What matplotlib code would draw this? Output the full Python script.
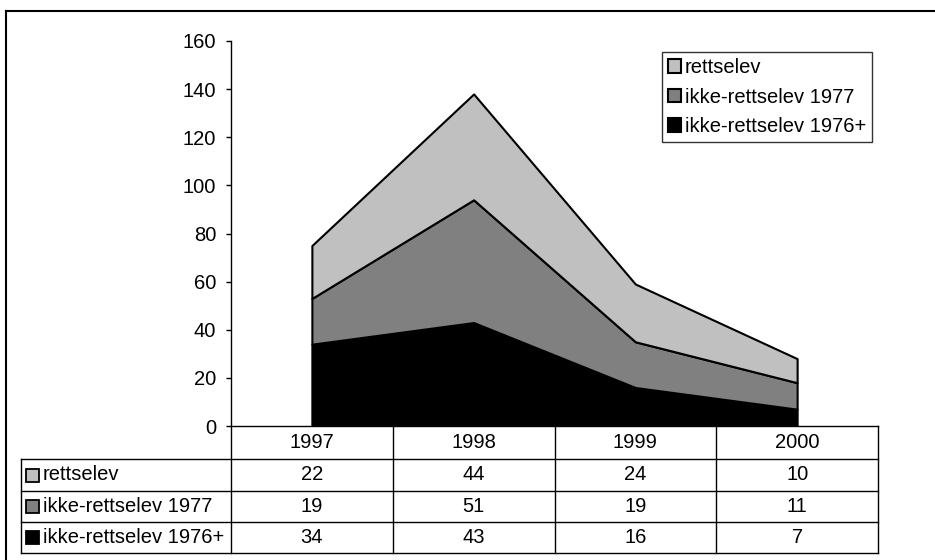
import matplotlib.pyplot as plt
import matplotlib.transforms as mtransforms
from matplotlib.patches import Rectangle

plt.rcParams["font.family"] = ["Liberation Sans", "DejaVu Sans"]

# ── DATA ──
YEARS = ["1997", "1998", "1999", "2000"]
RETTSELEV = [22, 44, 24, 10]
IKKE_1977 = [19, 51, 19, 11]
IKKE_1976 = [34, 43, 16, 7]

# table/legend order (top to bottom)
SERIES = [
    ("rettselev", RETTSELEV, "#c0c0c0"),
    ("ikke-rettselev 1977", IKKE_1977, "#808080"),
    ("ikke-rettselev 1976+", IKKE_1976, "#000000"),
]

W, H = 935, 560
FS = 14.5

fig = plt.figure(figsize=(W / 100, H / 100), dpi=100)

# plot area in pixels
AX_L, AX_R, AX_T, AX_B = 231, 878, 41, 426
ax = fig.add_axes([AX_L / W, 1 - AX_B / H, (AX_R - AX_L) / W, (AX_B - AX_T) / H])

x = list(range(len(YEARS)))
stack = SERIES[::-1]  # bottom layer first
ax.stackplot(
    x,
    *[vals for _, vals, _ in stack],
    colors=[c for _, _, c in stack],
    labels=[name for name, _, _ in stack],
    edgecolor="black",
    linewidth=1.5,
)
ax.set_xlim(-0.5, len(YEARS) - 0.5)
ax.set_ylim(0, 160)
ax.set_yticks(range(0, 161, 20))
ax.set_xticks([])
ax.tick_params(axis="y", direction="out", length=3.6, width=1, pad=7, labelsize=FS)
for side in ["top", "right", "bottom"]:
    ax.spines[side].set_visible(False)
ax.spines["left"].set_linewidth(1)

handles, labels = ax.get_legend_handles_labels()
leg = ax.legend(
    handles[::-1], labels[::-1],
    loc="upper right",
    bbox_to_anchor=(872 / W, 1 - 52 / H),
    bbox_transform=fig.transFigure,
    borderaxespad=0,
    borderpad=0.3,
    labelspacing=0.52,
    handlelength=0.65,
    handleheight=0.65,
    handletextpad=0.2,
    fancybox=False,
    fontsize=FS,
)
leg.get_frame().set_edgecolor("black")
leg.get_frame().set_linewidth(1)

# ── DATA TABLE + OUTER FRAME (pixel overlay) ──
over = fig.add_axes([0, 0, 1, 1])
over.set_xlim(0, W)
over.set_ylim(H, 0)
over.axis("off")

col = mtransforms.blended_transform_factory(ax.transData, over.transData)

ROWS = [426, 459, 491, 522, 553]
TAB_L = 21
n = len(YEARS)

over.plot([-0.5, n - 0.5], [ROWS[0], ROWS[0]], color="black", lw=1, transform=col)
for y in ROWS[1:]:
    over.plot([TAB_L, AX_R], [y, y], color="black", lw=1)
over.plot([TAB_L, TAB_L], [ROWS[1], ROWS[-1]], color="black", lw=1)
for k in range(n + 1):
    over.plot([k - 0.5, k - 0.5], [ROWS[0], ROWS[-1]], color="black", lw=1, transform=col)

mid = lambda i: (ROWS[i] + ROWS[i + 1]) / 2
for i, yr in enumerate(YEARS):
    over.text(i, mid(0), yr, ha="center", va="center", fontsize=FS, transform=col)

for r, (name, vals, color) in enumerate(SERIES, start=1):
    yc = mid(r)
    over.add_patch(Rectangle((26, yc - 6.5), 13, 13, facecolor=color, edgecolor="black", lw=1.3))
    over.text(43, yc, name, ha="left", va="center", fontsize=FS)
    for i, v in enumerate(vals):
        over.text(i, yc, str(v), ha="center", va="center", fontsize=FS, transform=col)

over.plot([6, W], [11, 11], color="black", lw=1.5)
over.plot([6, 6], [11, H], color="black", lw=1.5)

fig.savefig("out.png", dpi=100)
